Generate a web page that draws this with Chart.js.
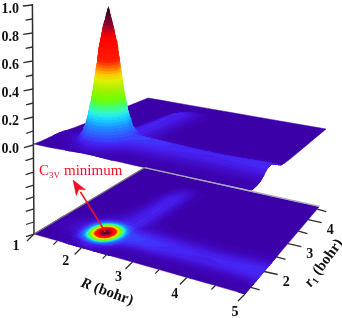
<!DOCTYPE html>
<html><head><meta charset="utf-8">
<style>html,body{margin:0;padding:0;background:#fff}canvas{display:block}</style>
<script src="https://cdn.jsdelivr.net/npm/chart.js@4"></script>
</head><body><canvas id="c" width="342" height="318"></canvas>
<script>
const R_VALUES = [1.0,1.3,1.53,1.63,1.73,1.83,1.93,2.03,2.13,2.23,2.33,2.43,2.53,2.7,3.0,3.5,4.0,4.5,4.8,5.0];
const R1_VALUES = [1.3,1.5,1.6,1.7,1.8,1.9,2.0,2.1,2.2,2.3,2.4,2.6,2.8,3.2,3.6,3.9,4.2,4.6];
const Z_VALUES = [
[0,0,.002,.004,.006,.008,.01,.01,.01,.01,.008,.006,.005,.004,.002,.002,.002,.002,.004,.006],
[0,.002,.01,.016,.026,.045,.065,.075,.068,.05,.032,.02,.014,.01,.008,.006,.006,.006,.008,.01],
[.002,.006,.018,.036,.075,.13,.2,.235,.205,.135,.085,.045,.028,.02,.018,.015,.014,.015,.016,.018],
[.004,.012,.028,.06,.135,.275,.445,.525,.45,.28,.14,.072,.052,.044,.04,.034,.03,.032,.034,.036],
[.006,.016,.038,.08,.205,.445,.73,.86,.73,.445,.215,.1,.074,.068,.062,.054,.05,.052,.056,.058],
[.007,.018,.04,.088,.235,.525,.86,1.0,.86,.525,.25,.115,.088,.08,.072,.062,.058,.062,.066,.068],
[.006,.016,.036,.078,.2,.44,.725,.855,.73,.45,.225,.11,.088,.082,.074,.064,.06,.064,.068,.07],
[.004,.012,.026,.056,.13,.275,.44,.52,.45,.285,.15,.085,.07,.068,.062,.054,.05,.054,.058,.06],
[.002,.008,.018,.036,.07,.13,.195,.235,.21,.145,.09,.062,.05,.05,.045,.038,.034,.038,.042,.044],
[0,.004,.01,.018,.032,.05,.07,.085,.08,.07,.062,.05,.036,.03,.024,.02,.018,.02,.024,.026],
[0,.002,.006,.01,.016,.024,.032,.04,.05,.058,.06,.05,.032,.016,.01,.008,.008,.01,.012,.012],
[0,0,0,.002,.005,.01,.018,.028,.042,.054,.06,.052,.032,.008,.002,.001,.001,.002,.003,.003],
[0,0,0,0,.002,.006,.012,.022,.038,.052,.06,.054,.034,.006,0,0,0,0,0,0],
[0,0,0,0,0,.002,.006,.016,.032,.05,.06,.056,.036,.006,0,0,0,0,0,0],
[0,0,0,0,0,0,.003,.012,.028,.046,.058,.056,.04,.008,0,0,0,0,0,0],
[0,0,0,0,0,0,0,.002,.01,.022,.032,.036,.028,.008,0,0,0,0,0,0],
[0,0,0,0,0,0,0,0,.001,.002,.004,.005,.003,.001,0,0,0,0,0,0],
[0,0,0,0,0,0,0,0,0,0,0,0,0,0,0,0,0,0,0,0]
];
const Z_LABEL_TICKS = [0,0.2,0.4,0.6,0.8,1.0];
const Z_MINOR_TICKS = [0.1,0.3,0.5,0.7,0.9];
const Z_LOWER_TICKS = [-0.093,-0.193,-0.286,-0.371,-0.457,-0.55,-0.636];
const R_TICK_LABELS = [1,2,3,4,5];
const R_MINOR_TICKS = [1.5,2.5,3.5,4.5];
const R1_TICK_LABELS = [2,3,4];
const R1_MINOR_TICKS = [1.5,2.5,3.5,4.5];
const COLOR_STOPS = [
[0,'#3b00a8'],[.02,'#3f08bc'],[.04,'#4412d6'],[.06,'#4820f0'],[.08,'#3f38fa'],[.12,'#2f60ff'],[.17,'#1e90ff'],
[.22,'#18d0ff'],[.26,'#30f5e0'],[.3,'#40ff80'],[.36,'#70ff00'],[.42,'#a0f000'],[.49,'#e0f000'],[.54,'#ffc000'],
[.58,'#ff7000'],[.63,'#ff2000'],[.8,'#ff0000'],[.85,'#c00020'],[.92,'#700030'],[1.02,'#201020']
];
const LEVELS = [-.01,.005,.01,.015,.02,.03,.04,.05,.06,.07,.08,.1,.12,.14,.16,.18,.2,.22,.24,.26,.28,.3,.32,.34,.36,.38,.4,.42,.44,.46,.48,.5,.52,.54,.56,.58,.6,.62,.64,.68,.72,.76,.8,.82,.84,.86,.88,.9,.92,.94,.96,.98,1.02];

const SERIF = '"Liberation Serif","Times New Roman",serif';
const Z0_PX = 145, Z_PX = 140;
const toZ = py => (Z0_PX - py) / Z_PX;

function plane(A,B,C,D){
  const sx=A[0]-B[0]+C[0]-D[0], sy=A[1]-B[1]+C[1]-D[1];
  const dx1=B[0]-C[0], dx2=D[0]-C[0], dy1=B[1]-C[1], dy2=D[1]-C[1];
  const den=dx1*dy2-dx2*dy1;
  const g=(sx*dy2-dx2*sy)/den, h=(dx1*sy-sx*dy1)/den;
  const a=B[0]-A[0]+g*B[0], b=D[0]-A[0]+h*D[0], d=B[1]-A[1]+g*B[1], e=D[1]-A[1]+h*D[1];
  return (R,r)=>{
    const u=(R-1)/4, v=(r-1.3)/3.3, w=1+g*u+h*v;
    return {x:(A[0]+a*u+b*v)/w, y:(A[1]+d*u+e*v)/w, w};
  };
}
const FLOOR = plane([34,234],[245,294],[319,207],[144,168]);
const UPPER = plane([34,144],[252,191],[326,129],[148,98]);
const LIFT = 138;

function hex(c){return [parseInt(c.slice(1,3),16),parseInt(c.slice(3,5),16),parseInt(c.slice(5,7),16)];}
function colorAt(z){
  for(let i=1;i<COLOR_STOPS.length;i++){
    if(z<=COLOR_STOPS[i][0]){
      const [a,ca]=COLOR_STOPS[i-1],[b,cb]=COLOR_STOPS[i];
      const t=Math.max(0,(z-a)/(b-a)),p=hex(ca),q=hex(cb);
      return 'rgb('+p.map((v,k)=>Math.round(v+(q[k]-v)*t)).join(',')+')';
    }
  }
  return COLOR_STOPS[COLOR_STOPS.length-1][1];
}
function clip(poly,L,above){
  const out=[];
  for(let i=0;i<poly.length;i++){
    const p=poly[i],q=poly[(i+1)%poly.length];
    const pi=above?p.z>=L:p.z<=L, qi=above?q.z>=L:q.z<=L;
    if(pi) out.push(p);
    if(pi!==qi){
      const t=(L-p.z)/(q.z-p.z);
      out.push({x:p.x+(q.x-p.x)*t,y:p.y+(q.y-p.y)*t,z:L});
    }
  }
  return out;
}
const sets=[];
function poly(points,color,width){
  const data=points.map(p=>({x:p.x,y:toZ(p.y)}));
  data.push(data[0]);
  sets.push({data,showLine:true,fill:'shape',backgroundColor:color,borderColor:color,borderWidth:width===undefined?.9:width,pointRadius:0,clip:false});
}
function line(a,b,color,width){
  sets.push({data:[{x:a.x,y:toZ(a.y)},{x:b.x,y:toZ(b.y)}],showLine:true,fill:false,borderColor:color,borderWidth:width,pointRadius:0,clip:false});
}
function drawSurface(pl,lift,flatLimit){
  const cells=[];
  const vert=(i,j)=>{
    const p=pl(R_VALUES[i],R1_VALUES[j]),z=Z_VALUES[j][i];
    return {x:p.x,y:p.y-lift*z/p.w,z,gy:p.y};
  };
  const ni=R_VALUES.length-1,nj=R1_VALUES.length-1;
  const rim=[];
  for(let i=0;i<=ni;i++)rim.push(vert(i,0));
  for(let j=1;j<=nj;j++)rim.push(vert(ni,j));
  for(let i=ni-1;i>=0;i--)rim.push(vert(i,nj));
  for(let j=nj-1;j>0;j--)rim.push(vert(0,j));
  poly(rim,COLOR_STOPS[0][1],.5);
  for(let j=0;j<nj;j++)for(let i=0;i<ni;i++){
    const q=[vert(i,j),vert(i+1,j),vert(i+1,j+1),vert(i,j+1)];
    cells.push({q,d:q.reduce((s,p)=>s+p.gy,0)/4,top:Math.max(...q.map(p=>p.z))});
  }
  cells.sort((a,b)=>a.d-b.d);
  const bands=c=>{
    const out=[];
    const q=c.q,zs=q.map(p=>p.z),lo=Math.min(...zs),hi=c.top;
    let k=0; while(LEVELS[k+1]<=lo)k++;
    if(hi<LEVELS[k+1]){out.push({n:k,pts:q});return out;}
    for(const tri of [[q[0],q[1],q[2]],[q[0],q[2],q[3]]]){
      for(let n=k;n<LEVELS.length-1&&LEVELS[n]<=hi;n++){
        const b=clip(clip(tri,LEVELS[n],true),LEVELS[n+1],false);
        if(b.length>=3)out.push({n,pts:b});
      }
    }
    return out;
  };
  const flat=[],tall=[];
  for(const c of cells){ (c.top<flatLimit?flat:tall).push(c); }
  const low=flat.flatMap(bands).map((b,i)=>({...b,i})).sort((a,b)=>a.n-b.n||a.i-b.i);
  low.forEach(b=>{ if(b.n>0) poly(b.pts,colorAt((LEVELS[b.n]+LEVELS[b.n+1])/2)); });
  tall.forEach(c=>bands(c).forEach(b=>poly(b.pts,colorAt((LEVELS[b.n]+LEVELS[b.n+1])/2),1.1)));
}
drawSurface(UPPER,LIFT,.12);
drawSurface(FLOOR,0,9);

const AXC='#2e2e2e';
const fA=FLOOR(1,1.3),fD=FLOOR(1,4.63),fC=FLOOR(5,4.63);
line({x:fA.x,y:fA.y},{x:fD.x,y:fD.y},'#777777',1.3);
line({x:fD.x,y:fD.y},{x:fC.x,y:fC.y},'#a8a8b8',1.3);
line({x:32.4,y:4},{x:34,y:234},AXC,1.5);
const axisX=py=>32.4+(py-4)*1.6/230;
const zTick=(z,len,dy)=>{const py=Z0_PX-z*Z_PX;line({x:axisX(py),y:py},{x:axisX(py)-len,y:py+dy},AXC,1.3);};
Z_LABEL_TICKS.forEach(z=>zTick(z,9.5,1+(1-z)*1.6));
Z_MINOR_TICKS.forEach(z=>zTick(z,7,1+(1-z)*1.4));
Z_LOWER_TICKS.forEach(z=>zTick(z,8,2.5));
R_TICK_LABELS.forEach(R=>{const p=FLOOR(R,1.3);line(p,{x:p.x-7,y:p.y+7},AXC,1.3);});
R_MINOR_TICKS.forEach(R=>{const p=FLOOR(R,1.3);line(p,{x:p.x-4,y:p.y+4},AXC,1.3);});
R1_TICK_LABELS.forEach(r=>{const p=FLOOR(5,r);line(p,{x:p.x+13.5,y:p.y+3},AXC,1.3);});
R1_MINOR_TICKS.forEach(r=>{const p=FLOOR(5,r);line(p,{x:p.x+9,y:p.y+2.5},AXC,1.3);});
const RED='#f01020';
const tail=FLOOR(2.03,1.9),tip={x:73,y:180};
const ax=tip.x-tail.x,ay=tip.y-tail.y,al=Math.hypot(ax,ay),ux=ax/al,uy=ay/al;
const neck={x:tip.x-ux*14,y:tip.y-uy*14};
line(tail,neck,RED,1.6);
poly([tip,{x:neck.x-uy*5.5-ux*1,y:neck.y+ux*5.5-uy*1},{x:tip.x-ux*11,y:tip.y-uy*11},{x:neck.x+uy*5.5-ux*1,y:neck.y-ux*5.5-uy*1}],RED,.5);

const textPlugin={id:'text3d',afterDraw(chart){
  const c=chart.ctx,X=chart.scales.x,Y=chart.scales.y;
  const px=p=>[X.getPixelForValue(p.x),Y.getPixelForValue(toZ(p.y))];
  c.save();c.fillStyle='#111';c.textAlign='center';c.textBaseline='middle';
  c.font='bold 14px '+SERIF;
  R_TICK_LABELS.forEach((R,i)=>{const [x,y]=px(FLOOR(R,1.3));c.fillText(String(R),x-18+i*2,y+12+i*1.5);});
  R1_TICK_LABELS.forEach(r=>{const [x,y]=px(FLOOR(5,r));c.fillText(String(r),x+22,y+11);});
  c.save();c.translate(107,292);c.rotate(20*Math.PI/180);c.textBaseline='middle';c.textAlign='left';
  c.font='italic bold 15px '+SERIF;const w1=c.measureText('R').width;
  c.font='bold 15px '+SERIF;const w2=c.measureText(' (bohr)').width;
  c.font='italic bold 15px '+SERIF;c.fillText('R',-(w1+w2)/2,0);
  c.font='bold 15px '+SERIF;c.fillText(' (bohr)',-(w1+w2)/2+w1,0);
  c.restore();
  c.save();c.translate(324,263);c.rotate(-54*Math.PI/180);c.textBaseline='middle';c.textAlign='left';
  c.font='italic bold 15px '+SERIF;const r0=c.measureText('r').width;
  c.font='bold 9px '+SERIF;const r1w=c.measureText('1').width;
  c.font='bold 15px '+SERIF;const r2=c.measureText(' (bohr)').width;
  const st=-(r0+r1w+r2)/2;
  c.font='italic bold 15px '+SERIF;c.fillText('r',st,0);
  c.font='bold 9px '+SERIF;c.fillText('1',st+r0,4);
  c.font='bold 15px '+SERIF;c.fillText(' (bohr)',st+r0+r1w,0);
  c.restore();
  c.fillStyle=RED;c.textAlign='left';c.textBaseline='alphabetic';
  c.font='15px '+SERIF;c.fillText('C',39,175);
  c.font='9px '+SERIF;c.fillText('3V',49,178);
  c.font='15px '+SERIF;c.fillText('minimum',64,175);
  c.restore();
}};

new Chart(document.getElementById('c'),{
  type:'scatter',
  data:{datasets:sets.reverse()},
  plugins:[textPlugin],
  options:{
    responsive:false,animation:false,events:[],
    layout:{padding:0},
    plugins:{legend:{display:false},tooltip:{enabled:false},filler:{propagate:false}},
    scales:{
      x:{type:'linear',display:false,min:33,max:342},
      y:{type:'linear',position:'left',min:toZ(318),max:toZ(0),
        afterBuildTicks(s){s.ticks=Z_LABEL_TICKS.map(v=>({value:v}));},
        afterFit(s){s.width=33;s.paddingTop=0;s.paddingBottom=0;},
        grid:{display:false,drawTicks:false},border:{display:false},
        ticks:{autoSkip:false,maxRotation:0,padding:14,labelOffset:4,color:'#111',
          font:{family:SERIF,weight:'bold',size:14},
          callback:v=>Number(v).toFixed(1)}
      }
    }
  }
});
</script></body></html>
